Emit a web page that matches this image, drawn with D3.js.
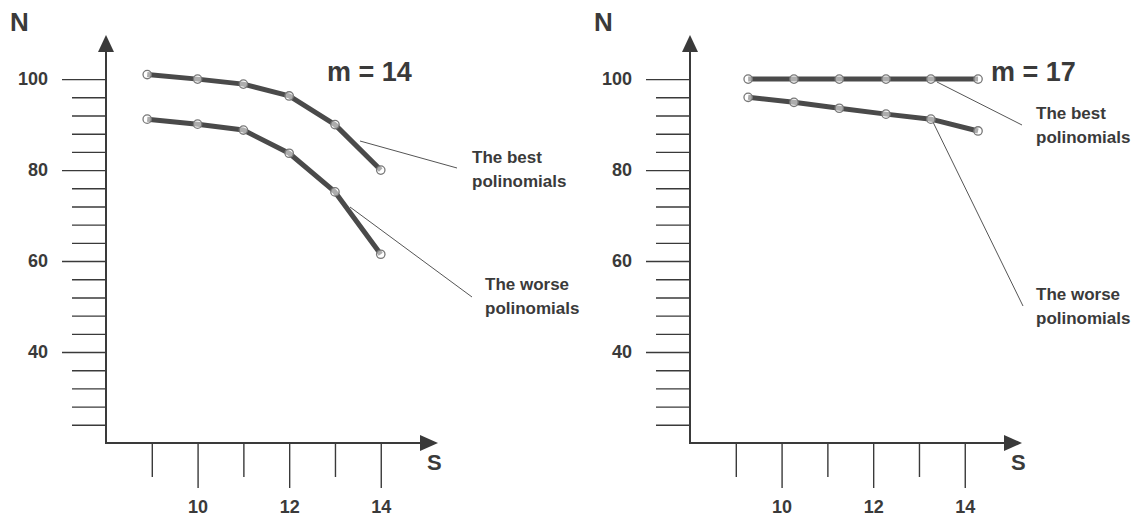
<!DOCTYPE html>
<html>
<head>
<meta charset="utf-8">
<script src="https://cdn.jsdelivr.net/npm/d3@7"></script>
<style>
  body { margin: 0; background: #fff; }
  text { font-family: "Liberation Sans", Arial, sans-serif; fill: #3a3a3a; }
</style>
</head>
<body>
<div id="chart"></div>
<script>
//data
var sLeft=[8.9, 10, 11, 12, 13, 14];
var bestLeft=[101, 100, 98.9, 96.3, 90, 80];
var worseLeft=[91.2, 90.1, 88.8, 83.7, 75.2, 61.5];

var sRight=[9.27, 10.27, 11.26, 12.28, 13.26, 14.29];
var bestRight=[100, 100, 100, 100, 100, 100];
var worseRight=[96, 94.9, 93.6, 92.3, 91.2, 88.6];

var panelTitles=["m = 14", "m = 17"];
var bestLabel=["The best", "polinomials"];
var worseLabel=["The worse", "polinomials"];

//axis ticks
var yMajor=[40, 60, 80, 100];
var yMinor=[24, 28, 32, 36, 44, 48, 52, 56, 64, 68, 72, 76, 84, 88, 92, 96];
var xMajor=[10, 12, 14];
var xMinor=[9, 11, 13];

//set size
var svgWidth=1139;
var svgHeight=520;

var svg=d3.select("#chart")
    .append("svg")
    .attr("width",svgWidth)
    .attr("height",svgHeight);

//shared scales (local to each panel group)
var xLinearScale=d3.scaleLinear().domain([8,15.25]).range([0,332]);
var yLinearScale=d3.scaleLinear().domain([20,109.7]).range([443,35]);

var ink="#3a3a3a";

function drawPanel(originX, s, best, worse, title, notes) {
    var g=svg.append("g")
        .attr("transform",`translate(${originX},0)`);

    //minor y ticks
    g.append("g")
        .call(d3.axisLeft(yLinearScale).tickValues(yMinor).tickSize(34).tickFormat(""))
        .call(a=>a.select(".domain").remove())
        .call(a=>a.selectAll("line").attr("stroke",ink).attr("stroke-width",1.4));

    //major y ticks
    g.append("g")
        .call(d3.axisLeft(yLinearScale).tickValues(yMajor).tickSize(44).tickPadding(14))
        .call(a=>a.select(".domain").remove())
        .call(a=>a.selectAll("line").attr("stroke",ink).attr("stroke-width",1.4))
        .call(a=>a.selectAll("text")
            .attr("fill",ink)
            .style("font-size","18px")
            .style("font-weight","bold")
            .style("font-family","Liberation Sans, Arial, sans-serif"));

    //x ticks
    var xAxisG=g.append("g").attr("transform",`translate(0,${yLinearScale(20)})`);
    xAxisG.append("g")
        .call(d3.axisBottom(xLinearScale).tickValues(xMinor).tickSize(34).tickFormat(""))
        .call(a=>a.select(".domain").remove())
        .call(a=>a.selectAll("line").attr("stroke",ink).attr("stroke-width",1.4));
    xAxisG.append("g")
        .call(d3.axisBottom(xLinearScale).tickValues(xMajor).tickSize(45).tickPadding(12))
        .call(a=>a.select(".domain").remove())
        .call(a=>a.selectAll("line").attr("stroke",ink).attr("stroke-width",1.4))
        .call(a=>a.selectAll("text")
            .attr("fill",ink)
            .style("font-size","18px")
            .style("font-weight","bold")
            .style("font-family","Liberation Sans, Arial, sans-serif"));

    //axis lines with arrows
    var x0=xLinearScale(8), y0=yLinearScale(20);
    var xEnd=xLinearScale(15.25), yEnd=yLinearScale(109.7);
    g.append("line")
        .attr("x1",x0).attr("y1",y0+1).attr("x2",x0).attr("y2",yEnd+10)
        .attr("stroke",ink).attr("stroke-width",2);
    g.append("path")
        .attr("d",`M${x0},${yEnd} L${x0-8},${yEnd+17} L${x0+8},${yEnd+17} Z`)
        .attr("fill",ink);
    g.append("line")
        .attr("x1",x0-1).attr("y1",y0).attr("x2",xEnd-10).attr("y2",y0)
        .attr("stroke",ink).attr("stroke-width",2);
    g.append("path")
        .attr("d",`M${xEnd},${y0} L${xEnd-18},${y0-8} L${xEnd-18},${y0+8} Z`)
        .attr("fill",ink);

    //axis names
    g.append("text")
        .attr("x",x0-96).attr("y",31)
        .style("font-size","26px")
        .style("font-weight","bold")
        .attr("fill","#444")
        .text("N");
    g.append("text")
        .attr("x",xEnd-11).attr("y",y0+27)
        .style("font-size","22px")
        .style("font-weight","bold")
        .text("S");

    //panel title
    g.append("text")
        .attr("x",notes.titleX).attr("y",81)
        .style("font-size","27px")
        .style("font-weight","bold")
        .text(title);

    //annotation leaders
    notes.leaders.forEach(function(l){
        g.append("line")
            .attr("x1",l[0]).attr("y1",l[1]).attr("x2",l[2]).attr("y2",l[3])
            .attr("stroke","#555").attr("stroke-width",1);
    });
    notes.labels.forEach(function(l){
        var t=g.append("text")
            .attr("x",l.x).attr("y",l.y)
            .style("font-size","17px")
            .style("font-weight","bold");
        l.lines.forEach(function(line,i){
            t.append("tspan").attr("x",l.x).attr("dy",i===0?0:24).text(line);
        });
    });

    //the two series
    var line=d3.line()
        .x(d=>xLinearScale(d[0]))
        .y(d=>yLinearScale(d[1]));
    [best, worse].forEach(function(series){
        var pts=s.map((v,i)=>[v,series[i]]);
        g.append("path")
            .datum(pts)
            .attr("d",line)
            .attr("fill","none")
            .attr("stroke","#4a4a4a")
            .attr("stroke-width",5)
            .attr("stroke-linejoin","round");
        g.selectAll(null)
            .data(pts)
            .enter()
            .append("circle")
            .attr("cx",d=>xLinearScale(d[0]))
            .attr("cy",d=>yLinearScale(d[1]))
            .attr("r",4.2)
            .attr("fill","#fff")
            .attr("fill-opacity",0.55)
            .attr("stroke","#777")
            .attr("stroke-width",1.3);
    });
}

//left panel
drawPanel(106, sLeft, bestLeft, worseLeft, panelTitles[0], {
    titleX:221,
    leaders:[[254,141,351,168],[244,207,366,297]],
    labels:[{x:366,y:163,lines:bestLabel},{x:379,y:290,lines:worseLabel}]
});

//right panel
drawPanel(690, sRight, bestRight, worseRight, panelTitles[1], {
    titleX:301,
    leaders:[[247,82,332,125],[242,120,333,306]],
    labels:[{x:346,y:119,lines:bestLabel},{x:346,y:300,lines:worseLabel}]
});
</script>
</body>
</html>
